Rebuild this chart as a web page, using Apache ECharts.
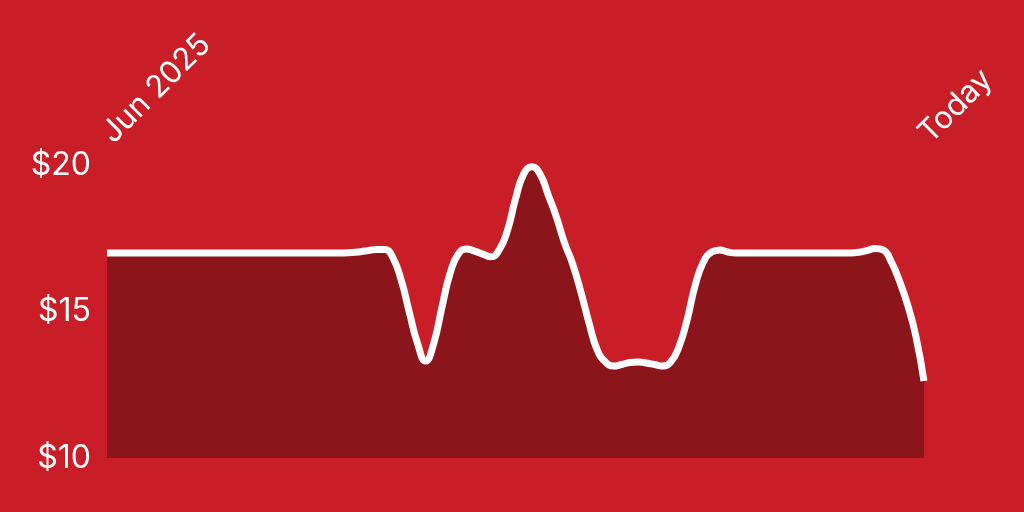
<!DOCTYPE html>
<html>
<head>
<meta charset="utf-8">
<script src="https://cdn.jsdelivr.net/npm/echarts@6/dist/echarts.min.js"></script>
<style>
  html, body { margin: 0; padding: 0; background: #c91d27; }
  #chart { width: 1024px; height: 512px; }
</style>
</head>
<body>
<div id="chart"></div>
<script>
// price, one point per step from Jun 2025 to today
var prices = [
  17, 17, 17, 17, 17, 17, 17, 17, 17, 17,
  17, 17, 17, 17, 17, 17, 17, 17, 17, 17,
  17, 17, 17, 17, 17, 17, 17, 17, 17, 17,
  17.01, 17.04, 17.08, 17.12, 17.12,
  16.83, 16.08, 14.98, 13.92, 13.31, 13.92, 15.15, 16.31,
  16.96, 17.13, 17.06, 16.96, 16.87,
  17.10, 17.75, 18.84, 19.69, 19.94, 19.69, 18.98, 18.23, 17.34,
  16.62, 15.67, 14.61, 13.69, 13.28, 13.14, 13.19, 13.26, 13.28, 13.24, 13.19, 13.14, 13.28,
  13.79, 14.71, 15.90, 16.69, 17.03, 17.10, 17.03,
  17, 17, 17, 17, 17, 17, 17, 17, 17, 17, 17, 17, 17, 17, 17,
  17.02, 17.08, 17.15, 17.10, 16.69, 16.04, 15.22, 14.16, 12.63
];
var days = prices.map(function (p, i) { return i; });
var tickLabels = ['Jun 2025', 'Today'];
var yTicks = [10, 15, 20];

var myChart = echarts.init(document.getElementById('chart'));
var last = days.length - 1;
var option = {
  backgroundColor: '#c91d27',
  animation: false,
  grid: { left: 107, right: 100, top: 165, bottom: 54, outerBoundsMode: 'none', containLabel: false },
  xAxis: {
    type: 'category',
    position: 'top',
    boundaryGap: false,
    data: days,
    axisLine: { show: false },
    axisTick: { show: false },
    axisLabel: {
      rotate: -45,
      margin: 27,
      color: '#fff',
      fontSize: 31,
      fontFamily: 'Inter',
      interval: function (i) { return i === 0 || i === last; },
      formatter: function (v, i) { return i === 0 ? tickLabels[0] : tickLabels[1]; }
    },
    splitLine: { show: false }
  },
  yAxis: {
    type: 'value',
    min: yTicks[0],
    max: yTicks[yTicks.length - 1],
    interval: yTicks[1] - yTicks[0],
    axisLine: { show: false },
    axisTick: { show: false },
    splitLine: { show: false },
    axisLabel: {
      margin: 16,
      color: '#fff',
      fontSize: 32,
      fontFamily: 'Inter',
      formatter: '${value}'
    }
  },
  series: [{
    type: 'line',
    data: prices,
    smooth: 0.5,
    symbol: 'none',
    lineStyle: { color: '#fff', width: 7 },
    areaStyle: { color: '#8c151c', opacity: 1 }
  }]
};
myChart.setOption(option);
</script>
</body>
</html>
